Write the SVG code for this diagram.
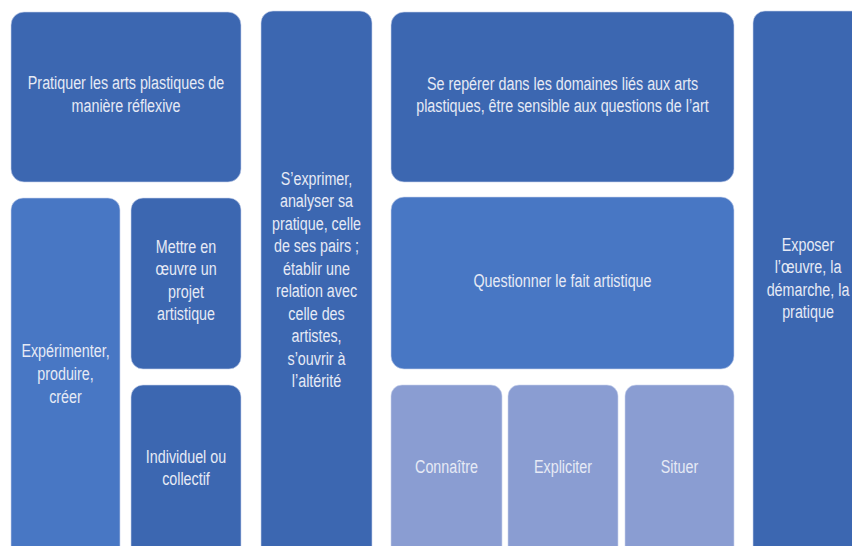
<svg xmlns="http://www.w3.org/2000/svg" width="852" height="546" viewBox="0 0 852 546">
<style>
.box{stroke:#c9d4ec;stroke-width:1;stroke-opacity:0.6}
.dark{fill:#3C67B1}
.mid{fill:#4877C4}
.light{fill:#8A9DD2}
text{font-family:"Liberation Sans",Arial,sans-serif;font-size:18px;fill:#E6EAF5;text-anchor:middle}
</style>
<rect width="852" height="546" fill="#ffffff"/>
<g id="n-pratiquer">
<rect class="box dark" x="11" y="12" width="230" height="170" rx="13"/>
<g transform="translate(126,0) scale(0.795,1)"><text x="0" y="89">Pratiquer les arts plastiques de</text><text x="0" y="112">manière réflexive</text></g>
</g>
<g id="n-experimenter">
<rect class="box mid" x="11" y="198" width="109" height="360" rx="12"/>
<g transform="translate(65.5,0) scale(0.795,1)"><text x="0" y="357">Expérimenter,</text><text x="0" y="380">produire,</text><text x="0" y="403">créer</text></g>
</g>
<g id="n-mettre">
<rect class="box dark" x="131" y="198" width="110" height="171" rx="12"/>
<g transform="translate(186,0) scale(0.795,1)"><text x="0" y="253">Mettre en</text><text x="0" y="275">œuvre un</text><text x="0" y="298">projet</text><text x="0" y="320">artistique</text></g>
</g>
<g id="n-individuel">
<rect class="box dark" x="131" y="385" width="110" height="175" rx="12"/>
<g transform="translate(186,0) scale(0.795,1)"><text x="0" y="463">Individuel ou</text><text x="0" y="485">collectif</text></g>
</g>
<g id="n-sexprimer">
<rect class="box dark" x="261" y="11" width="111" height="550" rx="12"/>
<g transform="translate(316.5,0) scale(0.795,1)"><text x="0" y="185">S’exprimer,</text><text x="0" y="207.5">analyser sa</text><text x="0" y="230">pratique, celle</text><text x="0" y="252.5">de ses pairs ;</text><text x="0" y="275">établir une</text><text x="0" y="297.5">relation avec</text><text x="0" y="320">celle des</text><text x="0" y="342.5">artistes,</text><text x="0" y="365">s’ouvrir à</text><text x="0" y="387.5">l’altérité</text></g>
</g>
<g id="n-reperer">
<rect class="box dark" x="391" y="12" width="343" height="170" rx="13"/>
<g transform="translate(562.5,0) scale(0.795,1)"><text x="0" y="90">Se repérer dans les domaines liés aux arts</text><text x="0" y="112">plastiques, être sensible aux questions de l’art</text></g>
</g>
<g id="n-questionner">
<rect class="box mid" x="391" y="197" width="343" height="172" rx="13"/>
<g transform="translate(562.5,0) scale(0.795,1)"><text x="0" y="287">Questionner le fait artistique</text></g>
</g>
<g id="n-connaitre">
<rect class="box light" x="391" y="385" width="111" height="175" rx="11"/>
<g transform="translate(446.5,0) scale(0.795,1)"><text x="0" y="473">Connaître</text></g>
</g>
<g id="n-expliciter">
<rect class="box light" x="508" y="385" width="110" height="175" rx="11"/>
<g transform="translate(563,0) scale(0.795,1)"><text x="0" y="473">Expliciter</text></g>
</g>
<g id="n-situer">
<rect class="box light" x="625" y="385" width="109" height="175" rx="11"/>
<g transform="translate(679.5,0) scale(0.795,1)"><text x="0" y="473">Situer</text></g>
</g>
<g id="n-exposer">
<rect class="box dark" x="753" y="11" width="112" height="550" rx="12"/>
<g transform="translate(808,0) scale(0.795,1)"><text x="0" y="251">Exposer</text><text x="0" y="273">l’œuvre, la</text><text x="0" y="296">démarche, la</text><text x="0" y="318">pratique</text></g>
</g>
<g id="connectors"></g>
</svg>
